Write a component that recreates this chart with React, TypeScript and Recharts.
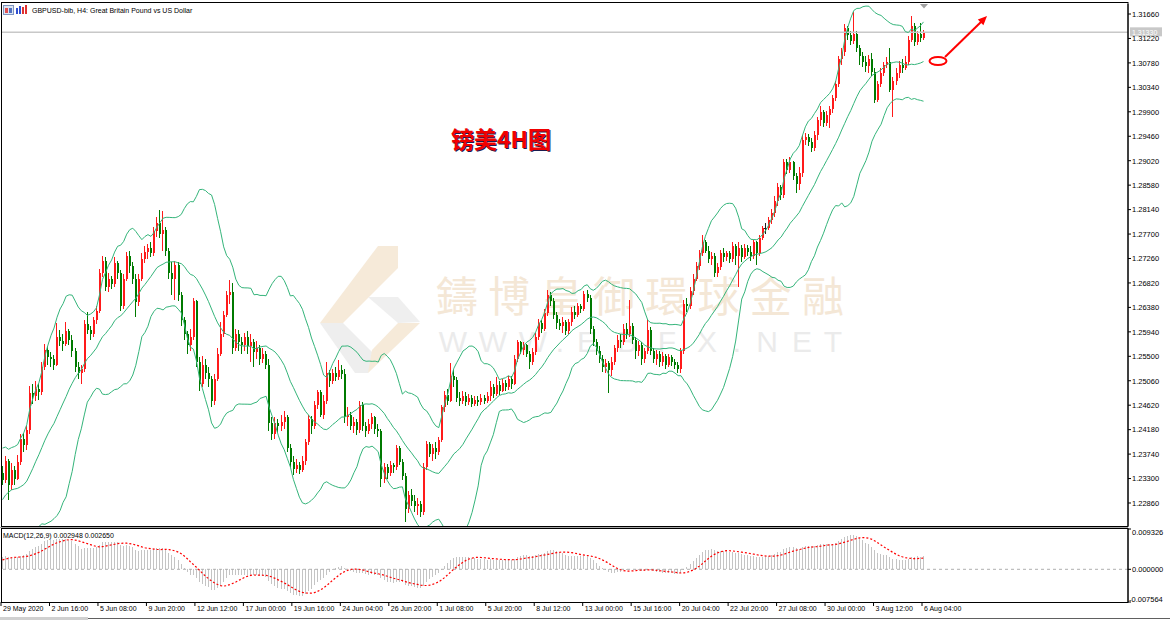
import React from 'react';
import { ComposedChart, Bar, Line, XAxis, YAxis, ReferenceLine } from 'recharts';

// GBPUSD H4 candles, 29 May 2020 04:00 .. 6 Aug 2020 04:00
const priorCloses = [
  1.2235, 1.2250, 1.2262, 1.2240, 1.2225, 1.2230,
  1.2240, 1.2225, 1.2210, 1.2218, 1.2200, 1.2215,
  1.2205, 1.2190, 1.2175, 1.2180, 1.2165, 1.2175,
  1.2180,
  1.2185, 1.2195, 1.2200, 1.2210, 1.2205, 1.2210,
  1.2195, 1.2215, 1.2260, 1.2300, 1.2335, 1.2340,
  1.2320, 1.2290, 1.2260, 1.2245, 1.2235, 1.2250,
  1.2270, 1.2300, 1.2320, 1.2345, 1.2355, 1.2335,
  1.2340,
];

const closes = [
  1.2328, 1.2362, 1.2318, 1.2345, 1.2330, 1.2360, 1.2402, 1.2390, 1.2418, 1.2484,
  1.2478, 1.2492, 1.2485, 1.2530, 1.2562, 1.2548, 1.2545, 1.2535, 1.2585, 1.2578,
  1.2572, 1.2595, 1.2580, 1.2560, 1.2530, 1.2520, 1.2528, 1.2608, 1.2598, 1.2590,
  1.2615, 1.2632, 1.2700, 1.2722, 1.2675, 1.2690, 1.2680, 1.2718, 1.2700, 1.2640,
  1.2690, 1.2730, 1.2712, 1.2690, 1.2648, 1.2690, 1.2725, 1.2738, 1.2745, 1.2735,
  1.2775, 1.2790, 1.2770, 1.2778, 1.2740, 1.2700, 1.2690, 1.2715, 1.2660, 1.2615,
  1.2590, 1.2570, 1.2585, 1.2650, 1.2540, 1.2500, 1.2535, 1.2520, 1.2510, 1.2470,
  1.2510, 1.2555, 1.2590, 1.2625, 1.2660, 1.2665, 1.2565, 1.2590, 1.2575, 1.2570,
  1.2585, 1.2568, 1.2575, 1.2558, 1.2565, 1.2545, 1.2555, 1.2535, 1.2430, 1.2410,
  1.2430, 1.2425, 1.2432, 1.2440, 1.2385, 1.2360, 1.2348, 1.2355, 1.2345, 1.2362,
  1.2395, 1.2438, 1.2425, 1.2462, 1.2485, 1.2445, 1.2470, 1.2520, 1.2505, 1.2520,
  1.2512, 1.2525, 1.2518, 1.2440, 1.2445, 1.2425, 1.2432, 1.2418, 1.2462, 1.2425,
  1.2415, 1.2428, 1.2440, 1.2420, 1.2415, 1.2330, 1.2350, 1.2340, 1.2355, 1.2350,
  1.2385, 1.2360, 1.2335, 1.2275, 1.2300, 1.2290, 1.2280, 1.2285, 1.2270, 1.2350,
  1.2392, 1.2375, 1.2385, 1.2378, 1.2400, 1.2458, 1.2480, 1.2470, 1.2515, 1.2508,
  1.2475, 1.2470, 1.2478, 1.2468, 1.2475, 1.2465, 1.2472, 1.2468, 1.2475, 1.2470,
  1.2478, 1.2495, 1.2482, 1.2498, 1.2488, 1.2502, 1.2495, 1.2510, 1.2500, 1.2545,
  1.2575, 1.2562, 1.2570, 1.2555, 1.2540, 1.2558, 1.2585, 1.2610, 1.2600, 1.2628,
  1.2660, 1.2650, 1.2625, 1.2610, 1.2605, 1.2612, 1.2595, 1.2612, 1.2630, 1.2625,
  1.2640, 1.2635, 1.2662, 1.2655, 1.2600, 1.2575, 1.2560, 1.2545, 1.2530, 1.2538,
  1.2525, 1.2540, 1.2565, 1.2580, 1.2575, 1.2600, 1.2590, 1.2605, 1.2580, 1.2560,
  1.2570, 1.2545, 1.2560, 1.2598, 1.2560, 1.2545, 1.2555, 1.2540, 1.2550, 1.2535,
  1.2548, 1.2540, 1.2535, 1.2528, 1.2560, 1.2645, 1.2640, 1.2668, 1.2690, 1.2712,
  1.2735, 1.2755, 1.2740, 1.2725, 1.2730, 1.2700, 1.2710, 1.2735, 1.2728, 1.2735,
  1.2725, 1.2748, 1.2730, 1.2745, 1.2728, 1.2745, 1.2738, 1.2730, 1.2755, 1.2735,
  1.2762, 1.2780, 1.2780, 1.2795, 1.2808, 1.2830, 1.2855, 1.2840, 1.2900, 1.2885,
  1.2900, 1.2875, 1.2860, 1.2880, 1.2940, 1.2945, 1.2935, 1.2925, 1.2948, 1.2975,
  1.2990, 1.2970, 1.2985, 1.2995, 1.3015, 1.3040, 1.3085, 1.3098, 1.3140, 1.3128,
  1.3118, 1.3130, 1.3105, 1.3090, 1.3080, 1.3072, 1.3085, 1.3062, 1.3012, 1.3040,
  1.3060, 1.3075, 1.3080, 1.3030, 1.3045, 1.3060, 1.3075, 1.3068, 1.3080, 1.3120,
  1.3145, 1.3115, 1.3130, 1.3122, 1.3133,
];

const highs = [
  1.2352, 1.2370, 1.2366, 1.2358, 1.2352, 1.2372, 1.2410, 1.2412, 1.2425, 1.2496,
  1.2500, 1.2505, 1.2500, 1.2540, 1.2572, 1.2568, 1.2558, 1.2552, 1.2610, 1.2598,
  1.2590, 1.2612, 1.2600, 1.2588, 1.2565, 1.2540, 1.2535, 1.2615, 1.2630, 1.2605,
  1.2620, 1.2640, 1.2708, 1.2730, 1.2728, 1.2700, 1.2695, 1.2728, 1.2722, 1.2705,
  1.2698, 1.2738, 1.2740, 1.2720, 1.2698, 1.2698, 1.2735, 1.2748, 1.2752, 1.2755,
  1.2782, 1.2800, 1.2813, 1.2812, 1.2782, 1.2745, 1.2720, 1.2722, 1.2720, 1.2665,
  1.2620, 1.2595, 1.2600, 1.2655, 1.2652, 1.2548, 1.2550, 1.2545, 1.2530, 1.2515,
  1.2518, 1.2565, 1.2612, 1.2632, 1.2668, 1.2688, 1.2682, 1.2600, 1.2598, 1.2585,
  1.2592, 1.2595, 1.2590, 1.2582, 1.2578, 1.2570, 1.2565, 1.2560, 1.2545, 1.2440,
  1.2440, 1.2438, 1.2445, 1.2452, 1.2445, 1.2392, 1.2370, 1.2365, 1.2360, 1.2370,
  1.2402, 1.2445, 1.2442, 1.2470, 1.2490, 1.2490, 1.2480, 1.2540, 1.2525, 1.2528,
  1.2530, 1.2543, 1.2535, 1.2528, 1.2458, 1.2450, 1.2440, 1.2438, 1.2470, 1.2468,
  1.2432, 1.2438, 1.2448, 1.2442, 1.2428, 1.2420, 1.2358, 1.2356, 1.2362, 1.2358,
  1.2390, 1.2388, 1.2365, 1.2340, 1.2308, 1.2312, 1.2300, 1.2295, 1.2290, 1.2358,
  1.2398, 1.2396, 1.2392, 1.2395, 1.2405, 1.2462, 1.2488, 1.2492, 1.2538, 1.2525,
  1.2512, 1.2485, 1.2488, 1.2485, 1.2482, 1.2480, 1.2478, 1.2478, 1.2482, 1.2480,
  1.2485, 1.2505, 1.2500, 1.2512, 1.2505, 1.2510, 1.2508, 1.2515, 1.2515, 1.2552,
  1.2580, 1.2578, 1.2576, 1.2572, 1.2560, 1.2565, 1.2592, 1.2618, 1.2615, 1.2635,
  1.2669, 1.2665, 1.2655, 1.2630, 1.2618, 1.2620, 1.2615, 1.2618, 1.2638, 1.2640,
  1.2646, 1.2645, 1.2668, 1.2670, 1.2660, 1.2605, 1.2582, 1.2568, 1.2552, 1.2545,
  1.2542, 1.2548, 1.2570, 1.2588, 1.2590, 1.2608, 1.2610, 1.2651, 1.2610, 1.2585,
  1.2578, 1.2575, 1.2565, 1.2618, 1.2602, 1.2565, 1.2562, 1.2560, 1.2558, 1.2555,
  1.2555, 1.2552, 1.2545, 1.2540, 1.2565, 1.2651, 1.2655, 1.2675, 1.2698, 1.2720,
  1.2742, 1.2768, 1.2760, 1.2748, 1.2738, 1.2735, 1.2718, 1.2742, 1.2745, 1.2740,
  1.2740, 1.2755, 1.2752, 1.2755, 1.2750, 1.2752, 1.2750, 1.2748, 1.2760, 1.2758,
  1.2768, 1.2785, 1.2790, 1.2800, 1.2815, 1.2838, 1.2862, 1.2858, 1.2905, 1.2905,
  1.2908, 1.2902, 1.2880, 1.2890, 1.2948, 1.2952, 1.2950, 1.2942, 1.2955, 1.2980,
  1.3000, 1.2993, 1.2992, 1.3000, 1.3020, 1.3046, 1.3090, 1.3105, 1.3148, 1.3145,
  1.3135, 1.3170, 1.3135, 1.3110, 1.3098, 1.3090, 1.3092, 1.3095, 1.3068, 1.3045,
  1.3068, 1.3080, 1.3088, 1.3105, 1.3052, 1.3068, 1.3082, 1.3085, 1.3090, 1.3126,
  1.3162, 1.3150, 1.3136, 1.3150, 1.3138,
];

const lows = [
  1.2318, 1.2322, 1.2292, 1.2310, 1.2318, 1.2328, 1.2355, 1.2378, 1.2382, 1.2410,
  1.2465, 1.2470, 1.2472, 1.2480, 1.2525, 1.2535, 1.2530, 1.2525, 1.2532, 1.2568,
  1.2560, 1.2568, 1.2570, 1.2548, 1.2522, 1.2510, 1.2500, 1.2522, 1.2590, 1.2580,
  1.2585, 1.2608, 1.2628, 1.2692, 1.2668, 1.2665, 1.2672, 1.2675, 1.2690, 1.2632,
  1.2635, 1.2685, 1.2700, 1.2680, 1.2620, 1.2640, 1.2685, 1.2718, 1.2725, 1.2728,
  1.2730, 1.2765, 1.2762, 1.2740, 1.2730, 1.2690, 1.2660, 1.2652, 1.2650, 1.2605,
  1.2580, 1.2555, 1.2560, 1.2580, 1.2530, 1.2488, 1.2495, 1.2510, 1.2495, 1.2458,
  1.2462, 1.2505, 1.2550, 1.2585, 1.2620, 1.2645, 1.2555, 1.2560, 1.2560, 1.2555,
  1.2560, 1.2555, 1.2540, 1.2530, 1.2545, 1.2535, 1.2538, 1.2528, 1.2415, 1.2400,
  1.2402, 1.2412, 1.2415, 1.2420, 1.2378, 1.2350, 1.2336, 1.2340, 1.2338, 1.2342,
  1.2355, 1.2390, 1.2410, 1.2420, 1.2455, 1.2440, 1.2438, 1.2465, 1.2495, 1.2500,
  1.2505, 1.2508, 1.2510, 1.2430, 1.2425, 1.2418, 1.2412, 1.2408, 1.2412, 1.2415,
  1.2405, 1.2410, 1.2420, 1.2410, 1.2405, 1.2315, 1.2322, 1.2330, 1.2335, 1.2340,
  1.2345, 1.2355, 1.2328, 1.2252, 1.2268, 1.2280, 1.2270, 1.2265, 1.2261, 1.2265,
  1.2345, 1.2368, 1.2362, 1.2365, 1.2372, 1.2395, 1.2450, 1.2462, 1.2468, 1.2495,
  1.2468, 1.2460, 1.2465, 1.2460, 1.2462, 1.2458, 1.2460, 1.2460, 1.2462, 1.2465,
  1.2466, 1.2470, 1.2475, 1.2478, 1.2480, 1.2485, 1.2488, 1.2490, 1.2492, 1.2498,
  1.2540, 1.2555, 1.2552, 1.2548, 1.2528, 1.2535, 1.2552, 1.2580, 1.2592, 1.2595,
  1.2622, 1.2640, 1.2618, 1.2600, 1.2598, 1.2592, 1.2588, 1.2590, 1.2605, 1.2618,
  1.2620, 1.2628, 1.2632, 1.2648, 1.2590, 1.2568, 1.2552, 1.2538, 1.2522, 1.2520,
  1.2484, 1.2515, 1.2535, 1.2558, 1.2565, 1.2570, 1.2582, 1.2585, 1.2572, 1.2545,
  1.2550, 1.2535, 1.2538, 1.2555, 1.2552, 1.2538, 1.2535, 1.2530, 1.2532, 1.2528,
  1.2530, 1.2532, 1.2528, 1.2520, 1.2520, 1.2555, 1.2630, 1.2635, 1.2660, 1.2685,
  1.2705, 1.2730, 1.2735, 1.2718, 1.2715, 1.2693, 1.2692, 1.2705, 1.2720, 1.2722,
  1.2718, 1.2720, 1.2715, 1.2675, 1.2720, 1.2725, 1.2730, 1.2722, 1.2725, 1.2715,
  1.2730, 1.2760, 1.2770, 1.2778, 1.2788, 1.2800, 1.2820, 1.2832, 1.2835, 1.2878,
  1.2880, 1.2868, 1.2844, 1.2850, 1.2872, 1.2930, 1.2928, 1.2918, 1.2920, 1.2940,
  1.2965, 1.2962, 1.2965, 1.2960, 1.2988, 1.3010, 1.3035, 1.3075, 1.3090, 1.3120,
  1.3110, 1.3112, 1.3098, 1.3075, 1.3070, 1.3062, 1.3060, 1.3055, 1.3005, 1.3008,
  1.3035, 1.3055, 1.3068, 1.3025, 1.2981, 1.3038, 1.3050, 1.3060, 1.3065, 1.3075,
  1.3115, 1.3108, 1.3110, 1.3115, 1.3120,
];

const timeLabels = [
  '29 May 2020', '2 Jun 16:00', '5 Jun 08:00', '9 Jun 20:00', '12 Jun 12:00',
  '17 Jun 00:00', '19 Jun 16:00', '24 Jun 04:00', '26 Jun 20:00', '1 Jul 08:00',
  '5 Jul 20:00', '8 Jul 12:00', '13 Jul 00:00', '15 Jul 16:00', '20 Jul 04:00',
  '22 Jul 20:00', '27 Jul 08:00', '30 Jul 00:00', '3 Aug 12:00', '6 Aug 04:00',
];

const priceTicks = [
  1.2286, 1.2330, 1.2374, 1.2418, 1.2462, 1.2506, 1.2550, 1.2594, 1.2638, 1.2682,
  1.2726, 1.2770, 1.2814, 1.2858, 1.2902, 1.2946, 1.2990, 1.3034, 1.3078, 1.3122, 1.3166,
];
const macdTicks = [-0.007564, 0, 0.009326];

const PRICE_DOMAIN: [number, number] = [1.22446, 1.3184];
const MACD_DOMAIN: [number, number] = [-0.007564, 0.009326];
const SLOTS = 372;
const TICK_EVERY = 16;

const FONT = '"Liberation Sans", Arial, sans-serif';
const UP = '#ff1a1a';
const DOWN = '#007a00';
const DOJI = '#202020';
const BAND = '#34b47a';

// ---- indicators: Bollinger(20, 2) and MACD(12, 26, 9) on closes ----
const series = [...priorCloses, ...closes];
const P = priorCloses.length;
const ema = (n: number) => {
  const k = 2 / (n + 1);
  const out: number[] = [];
  series.forEach((v, i) => out.push(i === 0 ? v : out[i - 1] + k * (v - out[i - 1])));
  return out;
};
const e12 = ema(12);
const e26 = ema(26);
const macdAll = series.map((_, i) => e12[i] - e26[i]);
const mean = (a: number[]) => a.reduce((s, v) => s + v, 0) / a.length;

const rows = Array.from({ length: SLOTS }, (_, i) => {
  if (i >= closes.length) return { idx: i } as any;
  const g = P + i;
  const win = series.slice(g - 19, g + 1);
  const mid = mean(win);
  const sd = Math.sqrt(mean(win.map((v) => (v - mid) * (v - mid))));
  const open = i === 0 ? priorCloses[P - 1] : closes[i - 1];
  const close = closes[i];
  const high = Math.max(highs[i], open, close);
  const low = Math.min(lows[i], open, close);
  return {
    idx: i,
    open,
    high,
    low,
    close,
    range: [low, high],
    bbUp: mid + 2 * sd,
    bbMid: mid,
    bbLow: mid - 2 * sd,
    macd: macdAll[g],
    signal: mean(macdAll.slice(g - 8, g + 1)),
  };
});

const lastClose = closes[closes.length - 1];

// ---- custom shapes ----
const Candle = (props: any) => {
  const { x, y, width, height, payload } = props;
  if (!payload || payload.close == null || !isFinite(y)) return <g />;
  const { open, close, high, low } = payload;
  const top = Math.min(y, y + height);
  const h = Math.abs(height);
  const span = high - low;
  const ppu = span > 0 ? h / span : 0;
  const yOf = (v: number) => top + (high - v) * ppu;
  const cx = Math.floor(x + width / 2);
  const color = close > open ? UP : close < open ? DOWN : DOJI;
  const yo = yOf(open);
  const yc = yOf(close);
  const bTop = Math.min(yo, yc);
  const bH = Math.max(1, Math.abs(yo - yc));
  return (
    <g shapeRendering="crispEdges">
      <rect x={cx} y={top} width={1} height={Math.max(1, h)} fill={color} />
      {close === open ? (
        <rect x={cx - 1} y={yo} width={3} height={1} fill={color} />
      ) : (
        <rect x={cx - 0.5} y={bTop} width={2} height={bH} fill={color} />
      )}
    </g>
  );
};

const HistBar = (props: any) => {
  const { x, y, width, height, payload } = props;
  if (!payload || payload.macd == null || !isFinite(y)) return <g />;
  const top = Math.min(y, y + height);
  const cx = Math.floor(x + width / 2);
  return <rect x={cx} y={top} width={1} height={Math.max(0.5, Math.abs(height))} fill="#c4c4c4" shapeRendering="crispEdges" />;
};

const PriceTick = (props: any) => {
  const { x, y, payload } = props;
  return (
    <g>
      <line x1={x} x2={x + 3} y1={y} y2={y} stroke="#000" />
      <text x={x + 4} y={y + 2.8} fontSize={7.5} fontFamily={FONT} fill="#000">
        {Number(payload.value).toFixed(5)}
      </text>
    </g>
  );
};

const MacdTick = (props: any) => {
  const { x, y, payload } = props;
  const v = Number(payload.value);
  const dy = v === MACD_DOMAIN[1] ? 6 : v === MACD_DOMAIN[0] ? -0.5 : 2.8;
  return (
    <g>
      <line x1={x} x2={x + 3} y1={y} y2={y} stroke="#000" />
      <text x={v < 0 ? x + 1 : x + 4} y={y + dy} fontSize={7.5} fontFamily={FONT} fill="#000">
        {v.toFixed(6)}
      </text>
    </g>
  );
};

const TimeTick = (props: any) => {
  const { x, y, payload } = props;
  const i = Number(payload.value);
  const k = i / TICK_EVERY;
  if (i % TICK_EVERY !== 0 || k >= timeLabels.length) return <g />;
  return (
    <g>
      <line x1={x - 1.5} x2={x - 1.5} y1={y} y2={y + 4} stroke="#000" />
      <text x={x + 0.5} y={y + 9} fontSize={7} fontFamily={FONT} fill="#000">
        {timeLabels[k]}
      </text>
    </g>
  );
};

const PriceTag = (props: any) => {
  const vb = props.viewBox || {};
  const x = (vb.x || 0) + (vb.width || 0);
  const y = vb.y || 0;
  return (
    <g>
      <rect x={x + 2} y={y - 5} width={32} height={9} fill="#c8c8c8" />
      <text x={x + 4} y={y + 2.5} fontSize={7} fontFamily={FONT} fill="#fff">
        {lastClose.toFixed(5)}
      </text>
    </g>
  );
};

// ---- watermark (behind the chart) ----
const brandChars = ['鑄', '博', '皇', '御', '環', '球', '金', '融'];
const siteChars = ['W', 'W', 'W', '.', 'E', 'B', 'F', 'X', '.', 'N', 'E', 'T'];
const siteX = [453, 493, 533, 560, 587, 627, 667, 707, 737, 767, 802, 833];

const Watermark = () => (
  <svg width={1170} height={620} style={{ position: 'absolute', left: 0, top: 0 }}>
    <polygon points="378,246 398,246 398,268 343,323 320,323" fill="#f6ead9" />
    <polygon points="320,323 343,323 378,358 368,373 355,373" fill="#eeeeee" />
    <polygon points="368,373 420,323 398,323 372,350" fill="#f6ead9" />
    <polygon points="368,297 398,297 420,322 398,323" fill="#efefef" />
    {brandChars.map((c, k) => (
      <text key={k} x={457 + k * 52.3} y={312} fontSize={42} textAnchor="middle"
        fontFamily='"Noto Sans CJK TC", "Noto Sans CJK SC", sans-serif' fill="#f4e7d6">
        {c}
      </text>
    ))}
    {siteChars.map((c, k) => (
      <text key={k} x={siteX[k]} y={352} fontSize={30} textAnchor="middle"
        fontFamily={FONT} fill="#ebebeb">
        {c}
      </text>
    ))}
  </svg>
);

// ---- annotations and frame (on top) ----
const Overlay = () => (
  <svg width={1170} height={620} style={{ position: 'absolute', left: 0, top: 0, pointerEvents: 'none' }}>
    <rect x={1.5} y={2.5} width={1126.5} height={524} fill="none" stroke="#000" />
    <line x1={0} x2={1128} y1={527.5} y2={527.5} stroke="#a8a8a8" />
    <rect x={1.5} y={528.5} width={1126.5} height={74} fill="none" stroke="#000" />
    <line x1={0} x2={1170} y1={618.5} y2={618.5} stroke="#606060" />
    <rect x={0} y={617} width={88} height={3} fill="#d0d0d0" />
    {/* symbol header */}
    <rect x={3.5} y={5.5} width={10} height={9} fill="#dde6f4" stroke="#7f95c0" />
    <rect x={5} y={8} width={3} height={5} fill="#e05050" />
    <rect x={9} y={8} width={3} height={5} fill="#5070c0" />
    <rect x={16} y={8} width={2} height={6} fill="#3050d0" />
    <rect x={19} y={6} width={2} height={8} fill="#3050d0" />
    <rect x={22} y={7} width={2} height={7} fill="#e03030" />
    <rect x={25} y={5} width={2} height={9} fill="#e03030" />
    <text x={32} y={13} fontSize={7} fontFamily={FONT} fill="#000">
      GBPUSD-bib, H4:  Great Britain Pound vs US Dollar
    </text>
    <text x={3} y={538} fontSize={7} fontFamily={FONT} fill="#000">
      MACD(12,26,9) 0.002948 0.002650
    </text>
    {/* chart shift marker */}
    <polygon points="920,4 928,4 924,8.5" fill="#a0a0a0" />
    {/* title */}
    <text x={452} y={149} fontSize={23} fontWeight={700}
      fontFamily='"Noto Sans CJK SC", sans-serif' fill="#1c1c50">镑美4H图</text>
    <text x={451} y={148} fontSize={23} fontWeight={700}
      fontFamily='"Noto Sans CJK SC", sans-serif' fill="#f00000">镑美4H图</text>
    {/* target marker */}
    <ellipse cx={938} cy={61} rx={8.5} ry={4} fill="none" stroke="#ff0000" strokeWidth={2} />
    <line x1={945} y1={57} x2={982} y2={21} stroke="#ff0000" strokeWidth={2} />
    <polygon points="987,16 983.4,25.2 977.8,19.4" fill="#ff0000" />
  </svg>
);

export default function App() {
  return (
    <div style={{ position: 'absolute', left: 0, top: 0, width: 1170, height: 620, background: '#fff', overflow: 'hidden' }}>
      <Watermark />
      <div style={{ position: 'absolute', left: 0, top: 0 }}>
        <ComposedChart width={1170} height={526} data={rows} margin={{ top: 4, right: 0, bottom: 0, left: 1 }}>
          <XAxis dataKey="idx" type="category" hide />
          <YAxis orientation="right" width={42} domain={PRICE_DOMAIN} allowDataOverflow ticks={priceTicks}
            interval={0} tickSize={0} tickMargin={0} tick={<PriceTick />} axisLine={{ stroke: '#000' }} tickLine={false} />
          <ReferenceLine y={lastClose} stroke="#c8c8c8" strokeWidth={1.5} label={<PriceTag />} />
          <Line dataKey="bbUp" stroke={BAND} strokeWidth={1} dot={false} isAnimationActive={false} />
          <Line dataKey="bbMid" stroke={BAND} strokeWidth={1} dot={false} isAnimationActive={false} />
          <Line dataKey="bbLow" stroke={BAND} strokeWidth={1} dot={false} isAnimationActive={false} />
          <Bar dataKey="range" shape={<Candle />} isAnimationActive={false} />
        </ComposedChart>
      </div>
      <div style={{ position: 'absolute', left: 0, top: 528 }}>
        <ComposedChart width={1170} height={92} data={rows} margin={{ top: 1, right: 0, bottom: 0, left: 1 }}>
          <XAxis dataKey="idx" type="category" height={18} interval={TICK_EVERY - 1} tickSize={0} tickMargin={0}
            tick={<TimeTick />} axisLine={false} tickLine={false} />
          <YAxis orientation="right" width={42} domain={MACD_DOMAIN} allowDataOverflow ticks={macdTicks}
            interval={0} tickSize={0} tickMargin={0} tick={<MacdTick />} axisLine={{ stroke: '#000' }} tickLine={false} />
          <ReferenceLine y={0} stroke="#b0b0b0" strokeDasharray="3 3" />
          <Bar dataKey="macd" shape={<HistBar />} isAnimationActive={false} />
          <Line dataKey="signal" stroke="#ff0000" strokeWidth={1.2} strokeDasharray="2 2" dot={false} isAnimationActive={false} />
        </ComposedChart>
      </div>
      <Overlay />
    </div>
  );
}
